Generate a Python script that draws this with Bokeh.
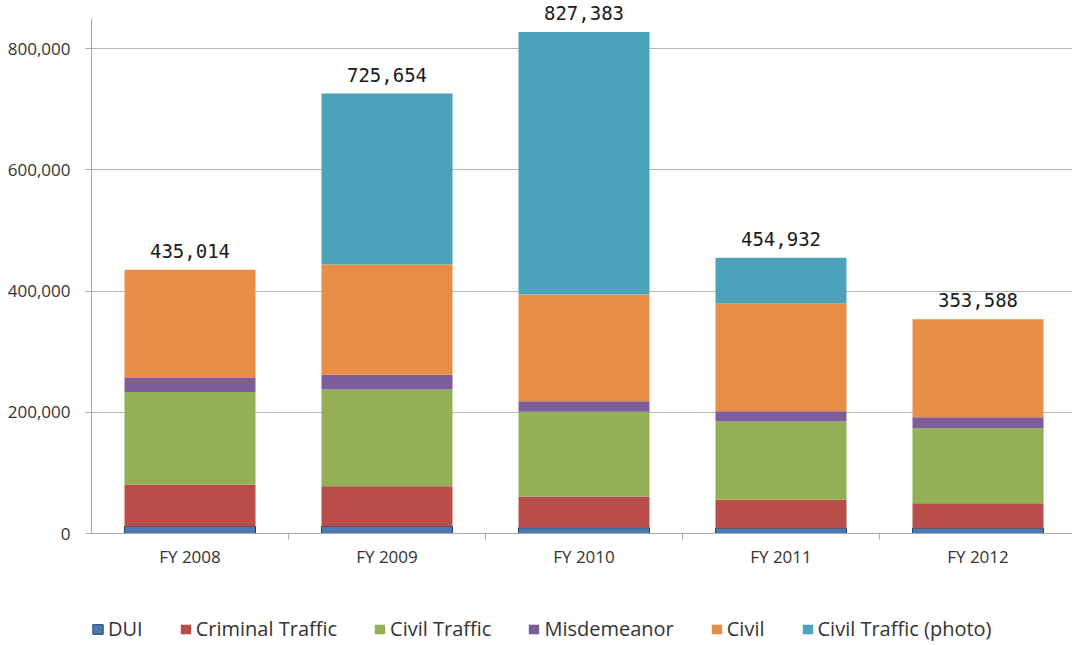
from bokeh.plotting import figure
from bokeh.models import (ColumnDataSource, Range1d, FixedTicker, NumeralTickFormatter,
                          Legend, LegendItem, LabelSet)
from bokeh.core.properties import value
from bokeh.embed import file_html
from bokeh.resources import INLINE

categories = ["FY 2008", "FY 2009", "FY 2010", "FY 2011", "FY 2012"]
dui = [11500, 11500, 9400, 8800, 8800]
criminal_traffic = [69000, 66500, 51600, 46800, 41200]
civil_traffic = [153000, 159600, 139800, 129200, 123800]
misdemeanor = [23000, 24200, 17500, 17000, 18100]
civil = [178514, 182100, 176100, 178200, 161688]
civil_traffic_photo = [0, 281754, 432983, 74932, 0]

series_names = ["DUI", "Criminal Traffic", "Civil Traffic", "Misdemeanor", "Civil",
                "Civil Traffic (photo)"]
y_ticks = [0, 200000, 400000, 600000, 800000]

colors = ["#4A7AB0", "#B84D4A", "#93B057", "#7D5E9C", "#E88D45", "#4AA3BB"]
keys = ["dui", "criminal_traffic", "civil_traffic", "misdemeanor", "civil", "civil_photo"]
xs = list(range(len(categories)))
totals = [sum(v) for v in zip(dui, criminal_traffic, civil_traffic, misdemeanor, civil,
                              civil_traffic_photo)]

source = ColumnDataSource(dict(
    x=xs, dui=dui, criminal_traffic=criminal_traffic, civil_traffic=civil_traffic,
    misdemeanor=misdemeanor, civil=civil, civil_photo=civil_traffic_photo,
    total=totals, total_label=["{:,}".format(t) for t in totals],
))

W, H = 1072, 645
LEFT = 91          # y axis position (px)
ZERO_PX = 533      # pixel row of the value 0
px_per_unit = 485 / 800000.0
y_axis_top = 849500

p = figure(width=W, height=H, output_backend="svg", toolbar_location=None,
           x_range=Range1d(-0.5, -0.5 + (W - LEFT) / 197.0),
           y_range=Range1d(-(H - ZERO_PX) / px_per_unit, ZERO_PX / px_per_unit),
           min_border_left=LEFT, min_border_right=0, min_border_top=0,
           min_border_bottom=0)
p.outline_line_color = None
p.background_fill_color = "white"
p.border_fill_color = "white"

renderers = p.vbar_stack(keys, x="x", width=0.665, color=colors, source=source,
                         line_color=None)
renderers[0].glyph.line_color = "#23406A"
renderers[0].glyph.line_width = 1

labels = LabelSet(x="x", y="total", text="total_label", source=source, y_offset=12,
                  text_align="center", text_baseline="bottom",
                  text_font=value("DejaVu Sans Mono"), text_font_size=value("19px"),
                  text_color="#1a1a1a")
p.add_layout(labels)

# grid
p.xgrid.visible = False
p.ygrid.ticker = FixedTicker(ticks=y_ticks)
p.ygrid.grid_line_color = "#B8B8B8"
p.ygrid.grid_line_width = 1

# y axis
p.yaxis.ticker = FixedTicker(ticks=y_ticks)
p.yaxis.bounds = (0, y_axis_top)
p.yaxis.formatter = NumeralTickFormatter(format="0,0")
p.yaxis.axis_line_color = "#A8A8A8"
p.yaxis.major_tick_line_color = "#A8A8A8"
p.yaxis.major_tick_out = 6
p.yaxis.major_tick_in = 0
p.yaxis.minor_tick_line_color = None
p.yaxis.major_label_standoff = 15
p.yaxis.major_label_text_font = "Open Sans"
p.yaxis.major_label_text_font_size = "17px"
p.yaxis.major_label_text_color = "#333333"

# x axis, drawn at the value 0
p.xaxis.fixed_location = 0
p.xaxis.ticker = FixedTicker(ticks=xs, minor_ticks=[i + 0.5 for i in xs[:-1]])
p.xaxis.major_label_overrides = {i: c for i, c in zip(xs, categories)}
p.xaxis.axis_line_color = "#A8A8A8"
p.xaxis.major_tick_line_color = None
p.xaxis.major_tick_out = 0
p.xaxis.minor_tick_line_color = "#A8A8A8"
p.xaxis.minor_tick_out = 6
p.xaxis.minor_tick_in = 0
p.xaxis.major_label_standoff = 5
p.xaxis.major_label_text_font = "Open Sans"
p.xaxis.major_label_text_font_size = "17px"
p.xaxis.major_label_text_color = "#333333"

legend = Legend(items=[LegendItem(label=n, renderers=[r]) for n, r in zip(series_names, renderers)],
                orientation="horizontal", location=(0, 3), padding=0, margin=0,
                spacing=36, glyph_width=13, glyph_height=12, label_standoff=4,
                label_text_font="Open Sans", label_text_font_size="20px",
                label_text_color="#333333", border_line_color=None,
                background_fill_alpha=0)
p.add_layout(legend)

open("out.html", "w").write(file_html(p, INLINE))
